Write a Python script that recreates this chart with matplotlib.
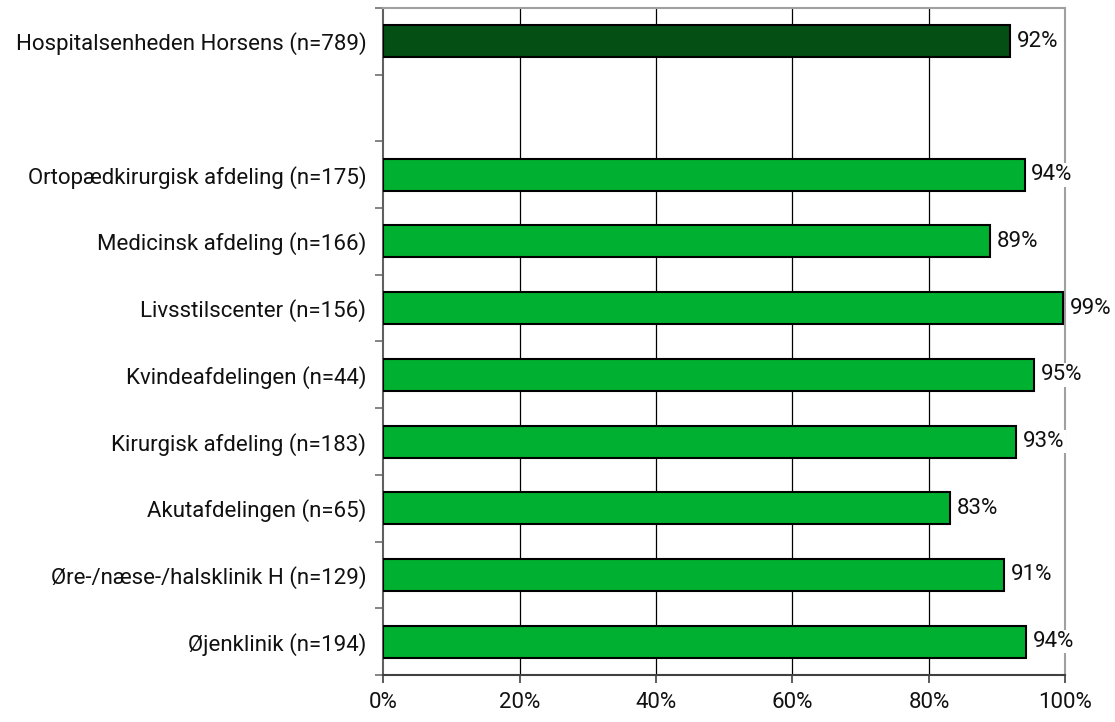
import matplotlib
matplotlib.use("Agg")
import matplotlib.pyplot as plt
import numpy as np

categories = [
    "Hospitalsenheden Horsens (n=789)",
    "",
    "Ortopædkirurgisk afdeling (n=175)",
    "Medicinsk afdeling (n=166)",
    "Livsstilscenter (n=156)",
    "Kvindeafdelingen (n=44)",
    "Kirurgisk afdeling (n=183)",
    "Akutafdelingen (n=65)",
    "Øre-/næse-/halsklinik H (n=129)",
    "Øjenklinik (n=194)",
]
values = [91.9, None, 94.0, 88.9, 99.6, 95.4, 92.8, 83.1, 91.0, 94.2]
value_labels = ["92%", "", "94%", "89%", "99%", "95%", "93%", "83%", "91%", "94%"]
xtick_values = [0, 20, 40, 60, 80, 100]
xtick_labels = ["0%", "20%", "40%", "60%", "80%", "100%"]

plt.rcParams['font.family'] = ['Roboto', 'DejaVu Sans']
FS = 16
TXT = "#111111"

fig = plt.figure(figsize=(11.15, 7.22), dpi=100)
ax = fig.add_axes([0.3435, 0.0651, 0.6121, 0.9239])

dark = "#034F14"
bright = "#00B030"

for i, (v, lab) in enumerate(zip(values, value_labels)):
    if v is None:
        continue
    col = dark if i == 0 else bright
    ax.barh(i, v, height=0.48, color=col, edgecolor="black", linewidth=1.5, zorder=3)
    ax.text(v + 1.0, i, lab, va="center", ha="left", fontsize=FS, color=TXT,
            zorder=5, bbox=dict(facecolor="white", edgecolor="none", pad=1.0))

ax.set_xlim(0, 100)
ax.set_ylim(9.5, -0.5)

ax.set_xticks(xtick_values)
ax.set_xticklabels(xtick_labels, fontsize=FS, color=TXT)
ax.tick_params(axis="x", direction="out", length=6, width=1.2, color="#404040", pad=6)

ax.set_yticks(range(len(categories)))
ax.set_yticklabels(categories, fontsize=FS, color=TXT)
ax.tick_params(axis="y", which="major", length=0, pad=12)
ax.set_yticks(np.arange(-0.5, 10.0, 1.0), minor=True)
ax.tick_params(axis="y", which="minor", direction="out", length=6, width=1.2, color="#707070")

for xv in xtick_values[1:-1]:
    ax.axvline(xv, color="black", linewidth=0.9, zorder=1)

ax.spines["left"].set_color("#606060")
ax.spines["left"].set_linewidth(1.5)
ax.spines["bottom"].set_color("#404040")
ax.spines["bottom"].set_linewidth(1.5)
ax.spines["top"].set_color("#a0a0a0")
ax.spines["top"].set_linewidth(1.5)
ax.spines["right"].set_color("#a0a0a0")
ax.spines["right"].set_linewidth(1.5)
ax.spines["right"].set_zorder(2)

fig.savefig("out.png", dpi=100)
